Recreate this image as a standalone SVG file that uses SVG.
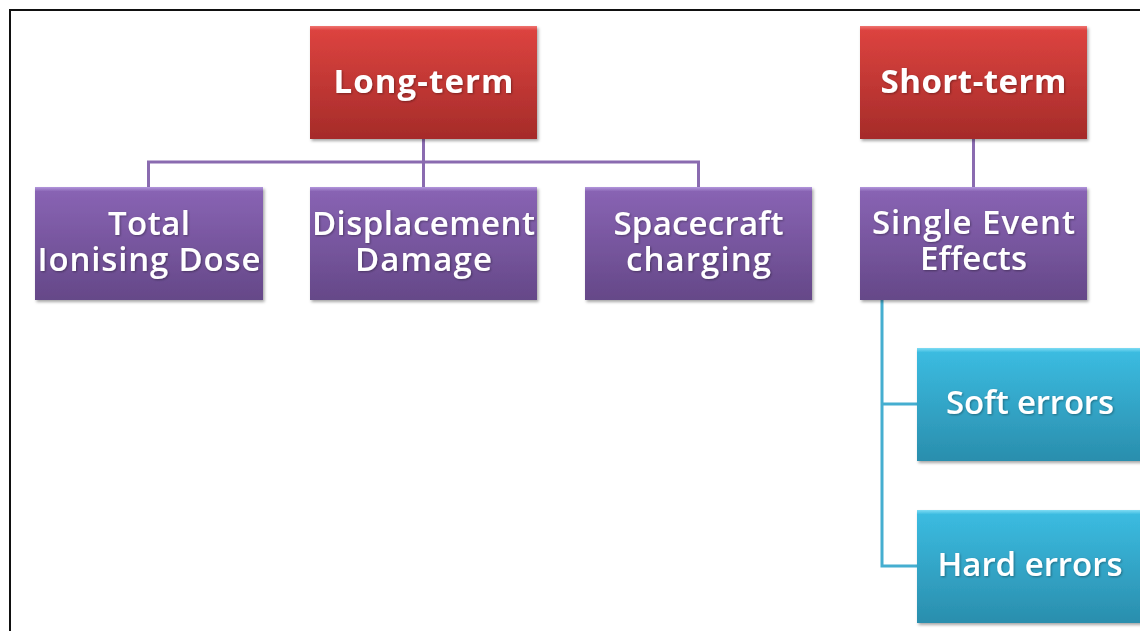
<svg xmlns="http://www.w3.org/2000/svg" width="1140" height="631" viewBox="0 0 1140 631">
<style>
.t{font-family:"Open Sans","Liberation Sans",sans-serif;font-size:33px;font-weight:600;fill:#fff;text-anchor:middle;filter:url(#ts)}
.h{font-weight:700;font-size:33px}
.lp{fill:none;stroke:#8a6bb0;stroke-width:3}
.lc{fill:none;stroke:#45aed0;stroke-width:3}
</style>
<defs>
<linearGradient id="gr" x1="0" y1="0" x2="0" y2="1">
<stop offset="0" stop-color="#f07470"/><stop offset="0.04" stop-color="#dc433f"/><stop offset="1" stop-color="#a52b29"/>
</linearGradient>
<linearGradient id="gp" x1="0" y1="0" x2="0" y2="1">
<stop offset="0" stop-color="#b296dc"/><stop offset="0.04" stop-color="#8863b3"/><stop offset="1" stop-color="#654888"/>
</linearGradient>
<linearGradient id="gc" x1="0" y1="0" x2="0" y2="1">
<stop offset="0" stop-color="#7fdcf4"/><stop offset="0.04" stop-color="#3bbbe0"/><stop offset="1" stop-color="#2a8ead"/>
</linearGradient>
<filter id="bs" x="-10%" y="-10%" width="120%" height="130%">
<feDropShadow dx="1.5" dy="2" stdDeviation="1.5" flood-color="#000" flood-opacity="0.35"/>
</filter>
<filter id="ts" x="-10%" y="-20%" width="120%" height="140%">
<feDropShadow dx="1" dy="1" stdDeviation="0.8" flood-color="#000" flood-opacity="0.35"/>
</filter>
</defs>
<rect width="1140" height="631" fill="#fff"/>
<path d="M10,631 V10 H1140" fill="none" stroke="#111" stroke-width="2"/>
<g id="connectors">
<path class="lp" d="M423.5,139 V162 M148.5,187 V162 H698.5 V187 M423.5,162 V187"/>
<path class="lp" d="M973.5,139 V187"/>
<path class="lc" d="M882,300 V566 H917 M882,404 H917"/>
</g>
<g id="long-term">
<rect x="310" y="26" width="227" height="113" fill="url(#gr)" filter="url(#bs)"/>
<text class="t h" x="423.5" y="93" textLength="180">Long-term</text>
</g>
<g id="short-term">
<rect x="860" y="26" width="227" height="113" fill="url(#gr)" filter="url(#bs)"/>
<text class="t h" x="973.5" y="93" textLength="186">Short-term</text>
</g>
<g id="tid">
<rect x="35" y="187" width="228" height="113" fill="url(#gp)" filter="url(#bs)"/>
<text class="t" x="149" y="235" textLength="82">Total</text>
<text class="t" x="149" y="271" textLength="223">Ionising Dose</text>
</g>
<g id="dd">
<rect x="310" y="187" width="227" height="113" fill="url(#gp)" filter="url(#bs)"/>
<text class="t" x="423.5" y="235" textLength="223">Displacement</text>
<text class="t" x="423.5" y="271" textLength="137">Damage</text>
</g>
<g id="sc">
<rect x="585" y="187" width="227" height="113" fill="url(#gp)" filter="url(#bs)"/>
<text class="t" x="698.5" y="235" textLength="170">Spacecraft</text>
<text class="t" x="698.5" y="271" textLength="145">charging</text>
</g>
<g id="see">
<rect x="860" y="187" width="227" height="113" fill="url(#gp)" filter="url(#bs)"/>
<text class="t" x="973.5" y="234" textLength="203">Single Event</text>
<text class="t" x="973.5" y="270" textLength="107">Effects</text>
</g>
<g id="soft">
<rect x="917" y="348" width="228" height="113" fill="url(#gc)" filter="url(#bs)"/>
<text class="t" x="1030" y="414" textLength="168">Soft errors</text>
</g>
<g id="hard">
<rect x="917" y="510" width="228" height="113" fill="url(#gc)" filter="url(#bs)"/>
<text class="t" x="1030" y="576" textLength="185">Hard errors</text>
</g>
</svg>
